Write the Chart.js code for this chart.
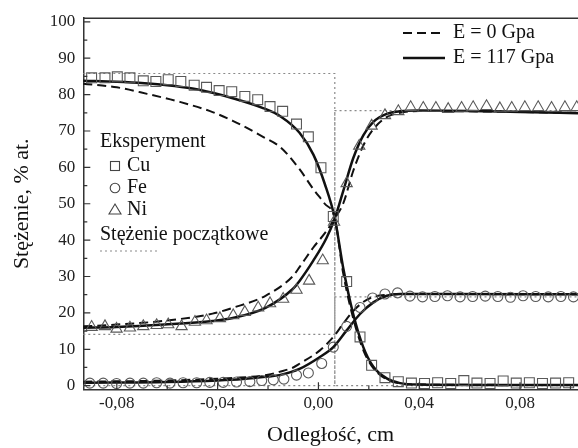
<!DOCTYPE html>
<html>
<head>
<meta charset="utf-8">
<script src="https://cdn.jsdelivr.net/npm/chart.js@4.4.1/dist/chart.umd.min.js"></script>
<style>
  html, body { margin: 0; padding: 0; background: #fff; }
  #wrap { width: 578px; height: 448px; }
</style>
</head>
<body>
<div id="wrap"><canvas id="chart" width="578" height="448"></canvas></div>
<script>
// --- dane ---
const cuExpX = [-0.0900, -0.0847, -0.0798, -0.0748, -0.0695, -0.0645, -0.0596, -0.0546, -0.0493, -0.0444,
  -0.0394, -0.0344, -0.0292, -0.0241, -0.0192, -0.0142, -0.0087, -0.0040, 0.0010, 0.0059,
  0.0112, 0.0165, 0.0211, 0.0264, 0.0317, 0.0369, 0.0421, 0.0473, 0.0525, 0.0577,
  0.0629, 0.0681, 0.0733, 0.0785, 0.0837, 0.0889, 0.0941, 0.0993];
const cuExpY = [84.6, 84.6, 84.9, 84.6, 83.8, 83.6, 84.1, 83.6, 82.6, 82.0,
  81.1, 80.8, 79.5, 78.6, 76.7, 75.4, 71.9, 68.4, 59.9, 46.5,
  28.6, 13.4, 5.6, 2.2, 1.1, 0.7, 0.6, 0.8, 0.6, 1.4,
  0.7, 0.6, 1.3, 0.7, 0.8, 0.6, 0.7, 0.8];

const feExpX = [-0.0907, -0.0854, -0.0801, -0.0748, -0.0695, -0.0642, -0.0589, -0.0537, -0.0483, -0.0431,
  -0.0378, -0.0325, -0.0272, -0.0225, -0.0179, -0.0137, -0.0087, -0.0040, 0.0013, 0.0059,
  0.0112, 0.0165, 0.0215, 0.0264, 0.0314, 0.0363, 0.0413, 0.0462, 0.0512, 0.0562,
  0.0612, 0.0662, 0.0712, 0.0762, 0.0812, 0.0862, 0.0912, 0.0962, 0.1012];
const feExpY = [0.7, 0.7, 0.6, 0.7, 0.7, 0.8, 0.7, 0.8, 0.8, 0.9,
  0.9, 1.0, 1.1, 1.4, 1.6, 1.8, 2.9, 3.5, 6.1, 10.6,
  16.3, 21.5, 24.1, 25.2, 25.5, 24.6, 24.4, 24.5, 24.7, 24.4,
  24.5, 24.6, 24.5, 24.3, 24.7, 24.5, 24.4, 24.5, 24.4];

const niExpX = [-0.0900, -0.0847, -0.0801, -0.0748, -0.0695, -0.0642, -0.0596, -0.0543, -0.0490, -0.0444,
  -0.0391, -0.0338, -0.0292, -0.0239, -0.0192, -0.0140, -0.0087, -0.0037, 0.0017, 0.0062,
  0.0112, 0.0162, 0.0211, 0.0264, 0.0317, 0.0366, 0.0416, 0.0466, 0.0515, 0.0568,
  0.0614, 0.0667, 0.0720, 0.0767, 0.0819, 0.0872, 0.0925, 0.0978, 0.1025];
const niExpY = [16.1, 16.3, 15.6, 15.9, 16.3, 16.6, 16.8, 16.3, 17.5, 17.9,
  18.5, 19.3, 20.2, 21.4, 22.6, 23.8, 26.3, 28.8, 34.4, 45.0,
  55.6, 65.9, 71.4, 74.3, 75.4, 76.5, 76.3, 76.3, 76.0, 76.3,
  76.5, 76.8, 76.2, 76.3, 76.5, 76.5, 76.3, 76.5, 76.5];

// obliczenia, E = 117 GPa (linia ciągła)
const cuCalcX = [-0.0933, -0.08, -0.069, -0.06, -0.05, -0.042, -0.034, -0.022, -0.015, -0.0075, -0.002, 0.0025, 0.0065, 0.0098, 0.0138, 0.0178, 0.0218, 0.0271, 0.0324, 0.04, 0.06, 0.08, 0.103];
const cuCalcY = [83.8, 83.5, 83.1, 82.6, 81.7, 80.5, 79.0, 76.3, 74.0, 69.5, 63.5, 55.5, 46.0, 32.5, 19.7, 10.6, 5.2, 2.0, 0.7, 0.3, 0.2, 0.2, 0.2];
const niCalcX = [-0.0933, -0.08, -0.061, -0.042, -0.034, -0.021, -0.0103, -0.0075, -0.0021, 0.0032, 0.0065, 0.0098, 0.0138, 0.0178, 0.0218, 0.0271, 0.0324, 0.04, 0.06, 0.08, 0.103];
const niCalcY = [15.9, 16.1, 16.8, 17.8, 18.6, 21.4, 26.5, 28.8, 34.3, 40.6, 46.0, 53.4, 62.5, 68.8, 72.5, 74.7, 75.4, 75.6, 75.5, 75.2, 74.9];
const feCalcX = [-0.0933, -0.06, -0.04, -0.03, -0.02, -0.0155, -0.0073, 0.0006, 0.0059, 0.0112, 0.0165, 0.0218, 0.0271, 0.0324, 0.05, 0.103];
const feCalcY = [0.8, 1.0, 1.4, 1.8, 2.5, 2.9, 4.7, 7.9, 10.6, 15.2, 19.7, 22.9, 24.7, 25.2, 25.2, 25.1];

// obliczenia, E = 0 GPa (linia przerywana)
const cuZeroX = [-0.0933, -0.08, -0.068, -0.055, -0.042, -0.034, -0.022, -0.015, -0.0075, -0.002, 0.0025, 0.0065, 0.0098, 0.0138, 0.0178, 0.0218, 0.0271, 0.0324, 0.04, 0.103];
const cuZeroY = [83.0, 82.0, 80.2, 78.0, 75.2, 72.8, 68.4, 65.5, 59.5, 54.0, 50.0, 46.0, 31.0, 18.5, 9.8, 4.8, 1.7, 0.6, 0.3, 0.2];
const niZeroX = [-0.0933, -0.08, -0.06, -0.042, -0.034, -0.021, -0.01, -0.0073, -0.0021, 0.0032, 0.0065, 0.0098, 0.0138, 0.0178, 0.0218, 0.0271, 0.0324, 0.04, 0.103];
const niZeroY = [16.3, 16.8, 17.9, 19.8, 21.4, 24.7, 30.2, 32.8, 37.9, 42.5, 46.0, 50.0, 59.0, 66.0, 70.5, 73.8, 75.0, 75.5, 75.0];
const feZeroX = [-0.0933, -0.06, -0.04, -0.034, -0.02, -0.0155, -0.01, -0.0073, 0.0006, 0.0059, 0.0098, 0.0138, 0.0178, 0.0218, 0.0271, 0.0324, 0.103];
const feZeroY = [1.1, 1.4, 1.9, 2.1, 3.0, 3.8, 5.0, 6.1, 9.7, 13.4, 17.0, 20.5, 23.0, 24.4, 25.0, 25.2, 25.1];

// stężenie początkowe (skok na granicy)
const stepX = [-0.0933, 0.0065, 0.0065, 0.103];
const cuStartY = [85.8, 85.8, 0, 0];
const niStartY = [14.1, 14.1, 75.6, 75.6];
const feStartY = [0, 0, 24.4, 24.4];

const xMajorTicks = [-0.08, -0.04, 0, 0.04, 0.08];
const xMinorTicks = [-0.06, -0.02, 0.02, 0.06, 0.10];
const yMajorTicks = [0, 10, 20, 30, 40, 50, 60, 70, 80, 90, 100];
const yMinorTicks = [5, 15, 25, 35, 45, 55, 65, 75, 85, 95];

const pts = (xs, ys) => xs.map((x, i) => ({ x: x, y: ys[i] }));
const SERIF = "'Liberation Serif', 'DejaVu Serif', serif";
const markerColor = '#595959';

function expSet(label, xs, ys, style, r) {
  return {
    type: 'scatter', label: label, data: pts(xs, ys),
    pointStyle: style, pointRadius: r, pointHoverRadius: r,
    borderColor: markerColor, backgroundColor: 'rgba(0,0,0,0)', pointBorderWidth: 1.1,
    showLine: false
  };
}
function calcSet(label, xs, ys, dashed) {
  return {
    type: 'line', label: label, data: pts(xs, ys),
    borderColor: '#111', borderWidth: dashed ? 2 : 2.5,
    borderDash: dashed ? [9, 5] : [],
    pointRadius: 0, fill: false, cubicInterpolationMode: 'monotone'
  };
}
function startSet(label, ys) {
  return {
    type: 'line', label: label, data: pts(stepX, ys),
    borderColor: '#8a8a8a', borderWidth: 1.2, borderDash: [2, 3],
    pointRadius: 0, fill: false, tension: 0
  };
}

// rysowanie ramki, wewnętrznych znaczników osi, legendy i tytułu osi Y
const decorations = {
  id: 'decorations',
  afterDraw(chart) {
    const ctx = chart.ctx;
    const a = chart.chartArea;
    const xs = chart.scales.x, ys = chart.scales.y;
    ctx.save();
    ctx.strokeStyle = '#333';
    ctx.lineWidth = 1.5;
    ctx.beginPath();
    ctx.moveTo(a.left, a.top);
    ctx.lineTo(a.right, a.top);
    ctx.stroke();

    ctx.lineWidth = 1.2;
    ctx.beginPath();
    yMajorTicks.forEach(v => { const p = ys.getPixelForValue(v); ctx.moveTo(a.left, p); ctx.lineTo(a.left + 7, p); });
    yMinorTicks.forEach(v => { const p = ys.getPixelForValue(v); ctx.moveTo(a.left, p); ctx.lineTo(a.left + 4, p); });
    xMajorTicks.forEach(v => { const p = xs.getPixelForValue(v); ctx.moveTo(p, a.bottom); ctx.lineTo(p, a.bottom - 7); });
    xMinorTicks.forEach(v => { const p = xs.getPixelForValue(v); if (p < a.right) { ctx.moveTo(p, a.bottom); ctx.lineTo(p, a.bottom - 4); } });
    ctx.stroke();

    // legenda: modele
    ctx.strokeStyle = '#111';
    ctx.lineWidth = 2;
    ctx.setLineDash([9, 5]);
    ctx.beginPath(); ctx.moveTo(403, 33); ctx.lineTo(445, 33); ctx.stroke();
    ctx.setLineDash([]);
    ctx.lineWidth = 2.5;
    ctx.beginPath(); ctx.moveTo(403, 58); ctx.lineTo(445, 58); ctx.stroke();

    ctx.fillStyle = '#111';
    ctx.font = '20px ' + SERIF;
    ctx.textBaseline = 'middle';
    ctx.textAlign = 'left';
    ctx.fillText('E = 0 Gpa', 453, 33);
    ctx.fillText('E = 117 Gpa', 453, 58);

    // legenda: eksperyment
    ctx.fillText('Eksperyment', 100, 142);
    ctx.fillText('Cu', 127, 166);
    ctx.fillText('Fe', 127, 188);
    ctx.fillText('Ni', 127, 210);
    ctx.fillText('Stężenie początkowe', 100, 235);

    ctx.strokeStyle = '#444';
    ctx.lineWidth = 1.1;
    ctx.strokeRect(110.5, 161.5, 9, 9);
    ctx.beginPath(); ctx.arc(115, 188, 4.8, 0, Math.PI * 2); ctx.stroke();
    ctx.beginPath(); ctx.moveTo(115, 204); ctx.lineTo(121, 214); ctx.lineTo(109, 214); ctx.closePath(); ctx.stroke();

    ctx.strokeStyle = '#8a8a8a';
    ctx.lineWidth = 1.2;
    ctx.setLineDash([2, 3]);
    ctx.beginPath(); ctx.moveTo(100, 251); ctx.lineTo(158, 251); ctx.stroke();
    ctx.setLineDash([]);

    // tytuł osi Y
    ctx.translate(22, (a.top + a.bottom) / 2);
    ctx.rotate(-Math.PI / 2);
    ctx.textAlign = 'center';
    ctx.font = '22px ' + SERIF;
    ctx.fillStyle = '#111';
    ctx.fillText('Stężenie, % at.', 0, 0);
    ctx.restore();
  }
};

new Chart(document.getElementById('chart'), {
  data: {
    datasets: [
      expSet('Cu', cuExpX, cuExpY, 'rect', 7),
      expSet('Fe', feExpX, feExpY, 'circle', 5),
      expSet('Ni', niExpX, niExpY, 'triangle', 6.5),
      calcSet('Cu E=117', cuCalcX, cuCalcY, false),
      calcSet('Ni E=117', niCalcX, niCalcY, false),
      calcSet('Fe E=117', feCalcX, feCalcY, false),
      calcSet('Cu E=0', cuZeroX, cuZeroY, true),
      calcSet('Ni E=0', niZeroX, niZeroY, true),
      calcSet('Fe E=0', feZeroX, feZeroY, true),
      startSet('Cu start', cuStartY),
      startSet('Ni start', niStartY),
      startSet('Fe start', feStartY)
    ]
  },
  options: {
    responsive: false,
    animation: false,
    events: [],
    clip: false,
    layout: { autoPadding: false, padding: { top: 16, right: 0, bottom: 0, left: 0 } },
    plugins: { legend: { display: false }, tooltip: { enabled: false } },
    scales: {
      x: {
        type: 'linear', min: -0.0933, max: 0.103,
        grid: { display: false, drawTicks: false },
        border: { display: true, color: '#333', width: 1.5 },
        ticks: {
          stepSize: 0.04, includeBounds: false, autoSkip: false, padding: 4,
          color: '#222', font: { family: SERIF, size: 17 },
          callback: v => v.toFixed(2).replace('.', ',').replace('-0,00', '0,00')
        },
        title: { display: true, text: 'Odległość, cm', color: '#111', font: { family: SERIF, size: 22 }, padding: { top: 0, bottom: 0 } },
        afterFit: s => { s.height = 58.7; }
      },
      y: {
        type: 'linear', min: -1, max: 101,
        grid: { display: false, drawTicks: false },
        border: { display: true, color: '#333', width: 1.5 },
        ticks: {
          stepSize: 10, includeBounds: false, padding: 8,
          color: '#222', font: { family: SERIF, size: 17 }
        },
        afterFit: s => { s.width = 83.3; }
      }
    }
  },
  plugins: [decorations]
});
</script>
</body>
</html>
